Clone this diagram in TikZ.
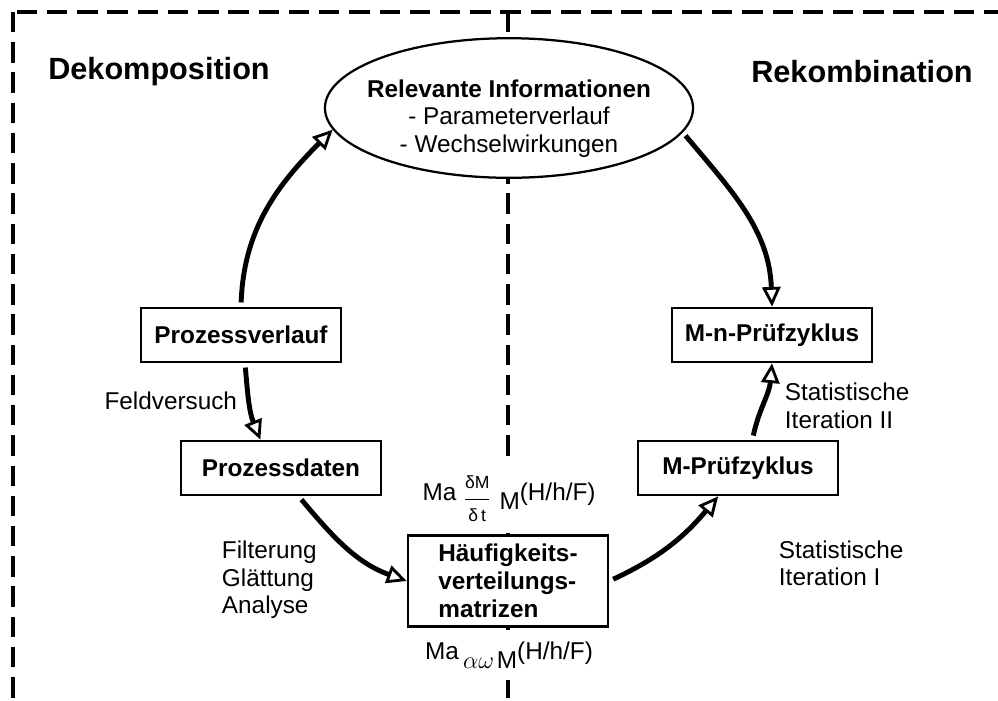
\documentclass[tikz,border=0pt]{standalone}
\usepackage{fontspec}
\setmainfont{Liberation Sans}
\usepackage{amsmath}
\usetikzlibrary{arrows.meta,shapes.geometric}

\newcommand{\hochbox}[1]{\raisebox{6.5pt}{#1}}
\newcommand{\kleinfont}{\fontsize{12.5}{12.5}\selectfont}

\begin{document}
\begin{tikzpicture}[
                    x=0.025cm, y=-0.025cm,
                    every node/.style={font=\fontsize{17.3}{19.5}\selectfont},
                    box/.style={rectangle, draw, line width=1.9pt, fill=white, minimum width=5cm, minimum height=1.35cm, font=\fontsize{17.3}{20}\selectfont\bfseries},
                    info/.style={ellipse, draw, line width=1.6pt, fill=white, minimum width=9.2cm, minimum height=3.3cm, inner xsep=-9pt, inner ysep=0pt, align=center},
                    flow/.style={-{Triangle[open, length=14pt, width=13pt, line width=2pt]}, line width=3.5pt, shorten <=3pt},
                    border/.style={dash pattern=on 14.5pt off 7pt, line width=2.4pt},
                    formel/.style={fill=white, inner xsep=3pt, inner ysep=8pt},
                    head/.style={font=\fontsize{21.8}{24}\selectfont\bfseries}
                ]
                    \useasboundingbox (0,0) rectangle (998,700);

                    % Frame and divider
                    \draw[border] (13,12) rectangle (1012,703);
                    \draw[border] (508,12) -- (508,703);

                    % Headings
                    \node[head] (dek) at (159,72) {Dekomposition};
                    \node[head] (rek) at (862,72) {Rekombination};

                    % Nodes
                    \node[info] (info) at (509,108) {\rule{0pt}{27.6pt}\textbf{Relevante Informationen}\\- Parameterverlauf\\- Wechselwirkungen};
                    \node[box] (pv) at (241,335) {Prozessverlauf};
                    \node[box] (pd) at (281,468) {Prozessdaten};
                    \node[box, minimum height=2.275cm, align=left] (hv) at (508,581) {Häufigkeits-\\verteilungs-\\matrizen};
                    \node[box] (mp) at (738,468) {M-Prüfzyklus};
                    \node[box] (mn) at (772,335) {M-n-Prüfzyklus};

                    % Matrix labels
                    \node[formel] (ftop) at (509,499) {\hochbox{Ma}\hspace{5pt}\raisebox{3pt}{$\genfrac{}{}{0.6pt}{0}{\text{\kleinfont δM}}{\text{\kleinfont δ\,t}}$}\hspace{6pt}M\hochbox{(H/h/F)}};
                    \node[formel] (fbot) at (509,655) {\hochbox{Ma}\hspace{3pt}$\alpha\omega$\hspace{2pt}M\hochbox{(H/h/F)}};

                    % Step labels
                    \node[anchor=east] (feld) at (242,401) {Feldversuch};
                    \node[anchor=west, align=left] (filt) at (217,580) {Filterung\\Glättung\\Analyse};
                    \node[anchor=west, align=left] (it1) at (774,563) {Statistische\\Iteration I};
                    \node[anchor=west, align=left] (it2) at (780,406) {Statistische\\Iteration II};

                    % Arrows
                    \draw[flow] (pv.north) to[out=88, in=225] (info.187);
                    \draw[flow] (info.-8) to[out=-50, in=92] (mn.north);
                    \draw[flow] (pv.-82) to[out=-85, in=112] (pd.126);
                    \draw[flow] (pd.-58) to[out=-50, in=160] (hv.west);
                    \draw[flow] (hv.east) to[out=25, in=230] (mp.235);
                    \draw[flow] (mp.63) to[out=78, in=-95] (mn.south);
                \end{tikzpicture}
\end{document}
